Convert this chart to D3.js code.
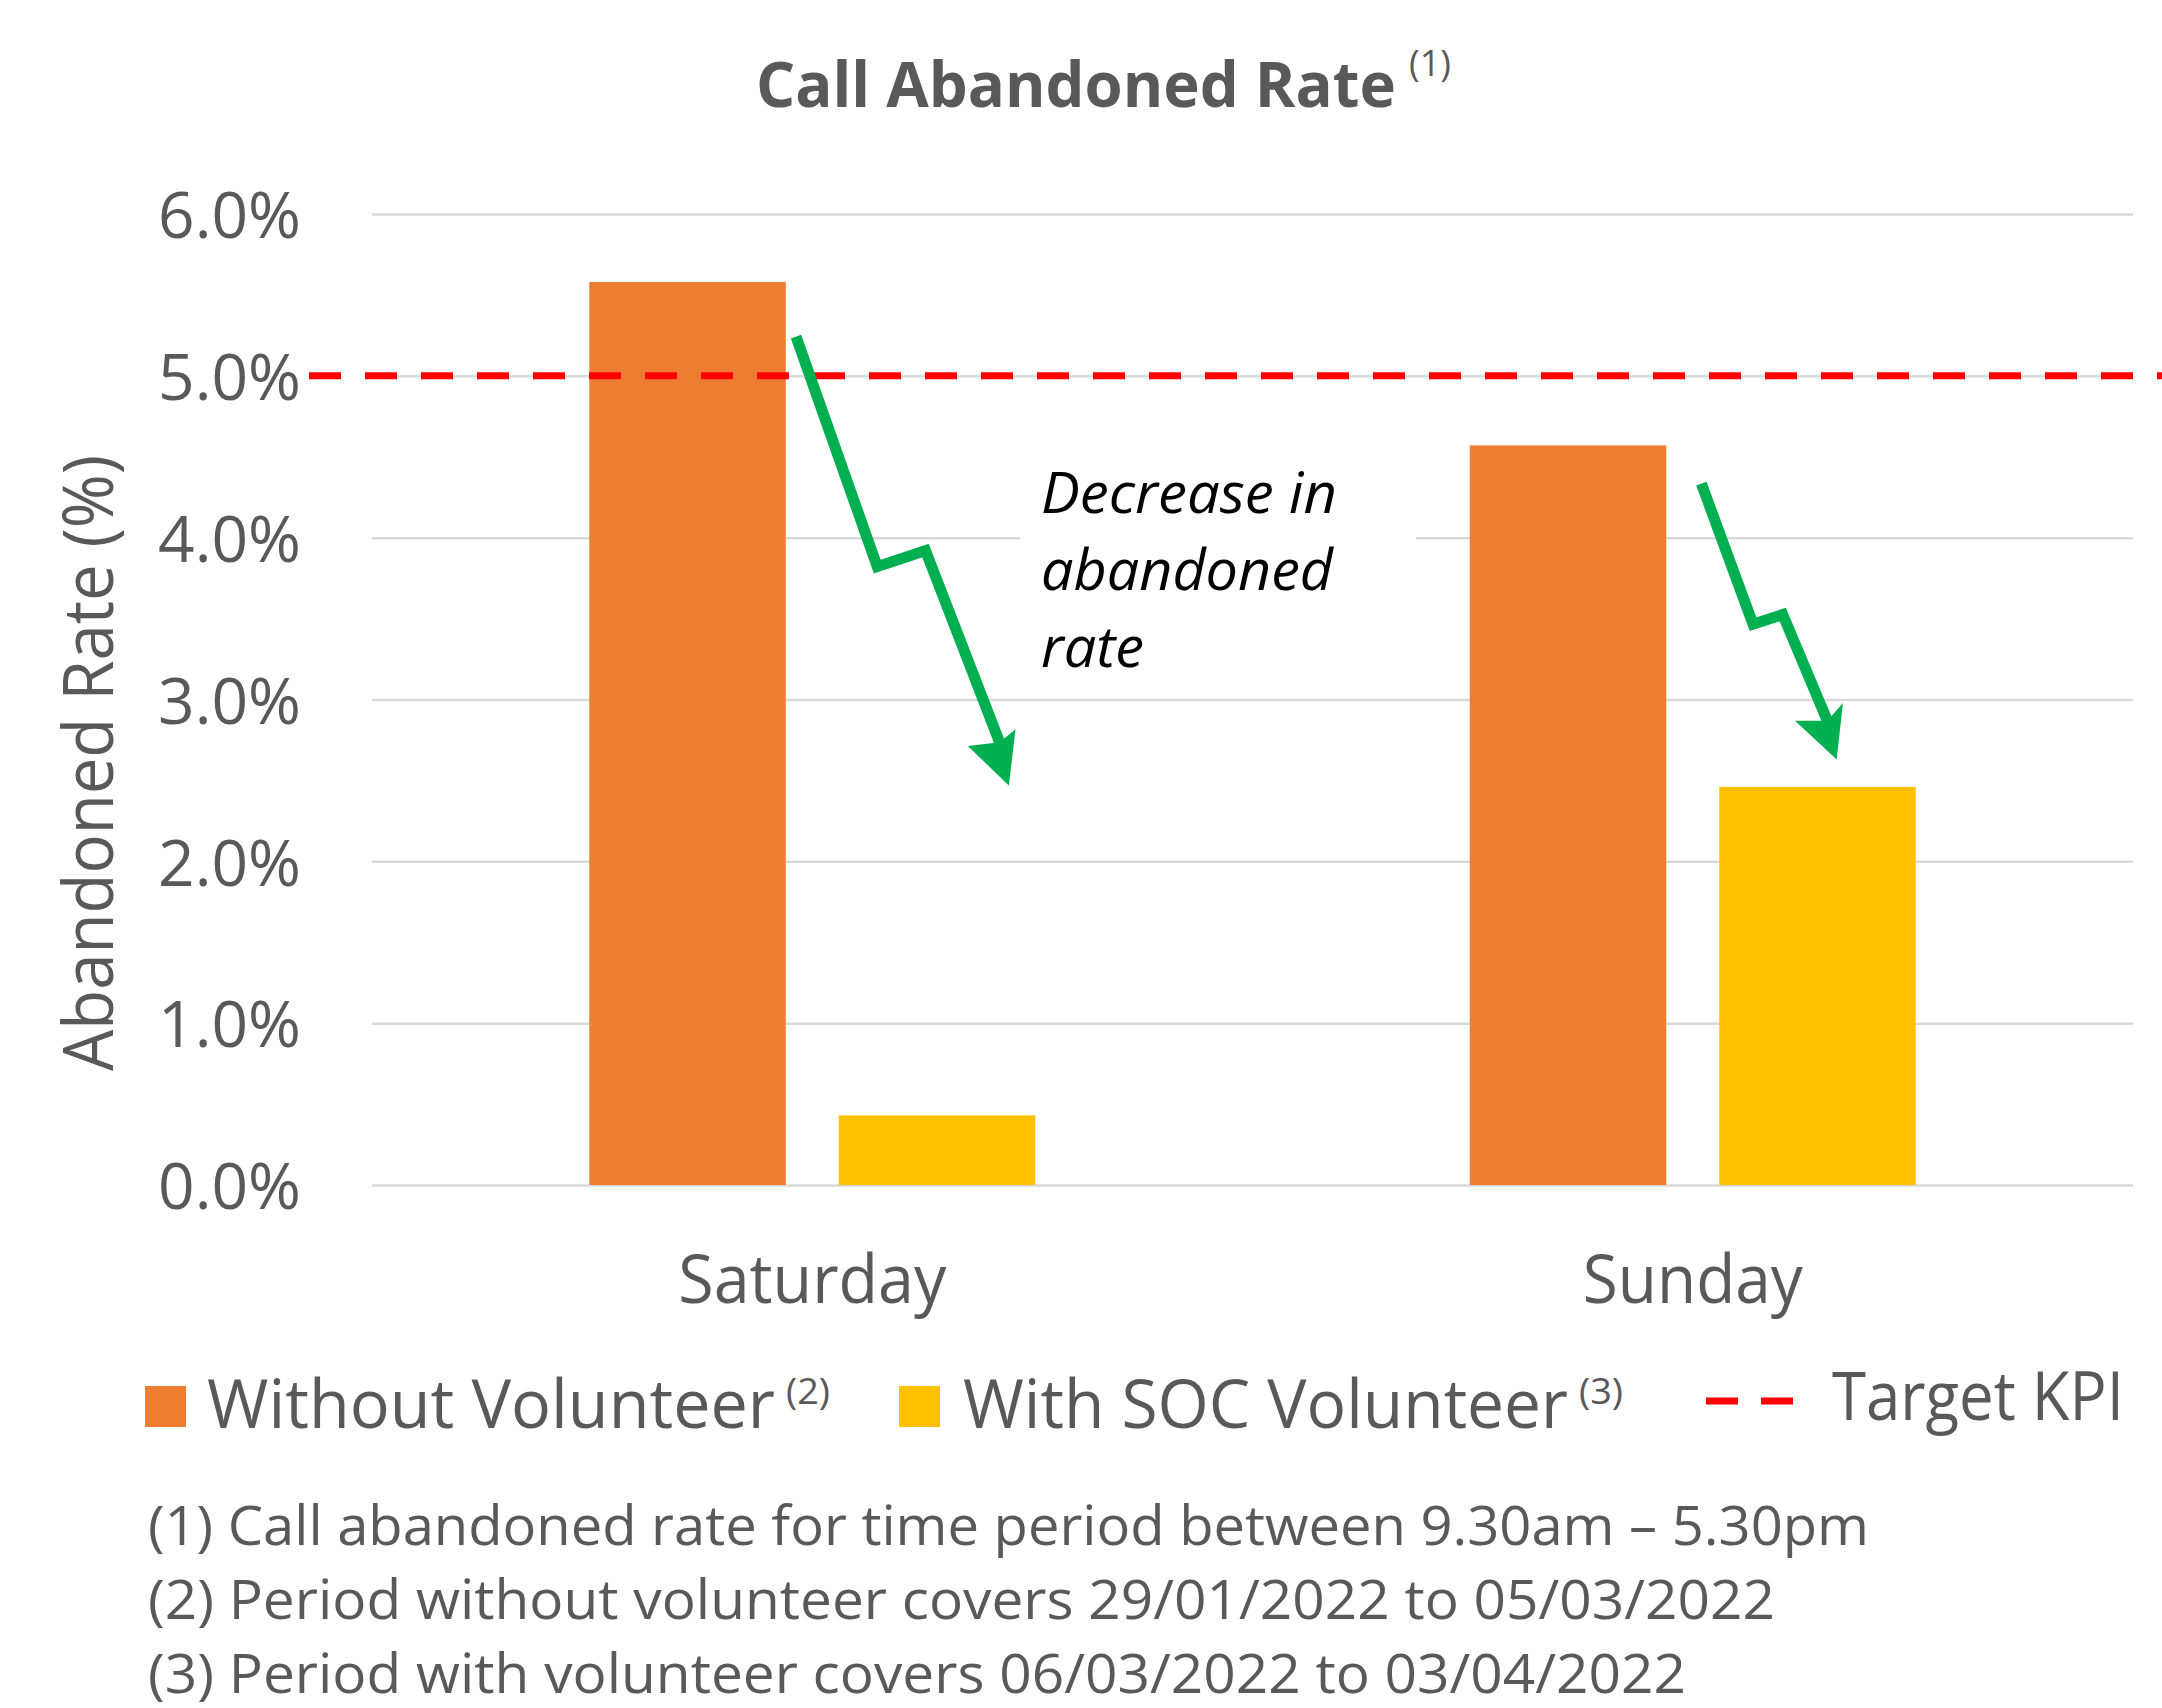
<!DOCTYPE html>
<html>
<head>
<meta charset="utf-8">
<script src="https://cdn.jsdelivr.net/npm/d3@7"></script>
<style>
  html, body { margin: 0; padding: 0; background: #fff; }
  svg { display: block; }
  text { font-family: "Open Sans", "Noto Sans", sans-serif; }
</style>
</head>
<body>
<svg id="chart" width="2162" height="1708"></svg>
<script>
// ---------------- data ----------------
const categories = ["Saturday", "Sunday"];
const seriesNames = ["Without Volunteer", "With SOC Volunteer"];
const seriesSups = ["(2)", "(3)"];
const seriesColors = ["#ED7D31", "#FFC000"];
const withoutVolunteer = [5.58, 4.57];
const withSOCVolunteer = [0.43, 2.46];
const targetKPI = 5.0;
const targetLabel = "Target KPI";
const yTicks = [0, 1, 2, 3, 4, 5, 6];
const chartTitle = "Call Abandoned Rate";
const titleSup = "(1)";
const yAxisTitle = "Abandoned Rate (%)";
const annotationLines = ["Decrease in", "abandoned", "rate"];
const footnotes = [
  "(1) Call abandoned rate for time period between 9.30am \u2013 5.30pm",
  "(2) Period without volunteer covers 29/01/2022 to 05/03/2022",
  "(3) Period with volunteer covers 06/03/2022 to 03/04/2022"
];
// annotation arrows: [fraction of plot width, value in %]
const arrowSaturdayShaft = [[0.2408, 5.242], [0.2869, 3.821], [0.3143, 3.920], [0.3566, 2.729]];
const arrowSaturdayHead  = [[0.3396, 2.708], [0.3612, 2.482], [0.3647, 2.801], [0.3566, 2.729]];
const arrowSundayShaft   = [[0.7549, 4.334], [0.7842, 3.465], [0.8011, 3.525], [0.8267, 2.862]];
const arrowSundayHead    = [[0.8095, 2.862], [0.8313, 2.642], [0.8345, 2.960], [0.8267, 2.862]];

// ---------------- layout ----------------
const W = 2162, H = 1708;
const plot = { left: 372, right: 2133, top: 214, bottom: 1185 };
const textColor = "#595959";

const svg = d3.select("#chart");

function fit(sel, w) {
  sel.attr("textLength", w).attr("lengthAdjust", "spacingAndGlyphs");
  return sel;
}

const y = d3.scaleLinear().domain([0, 6]).range([plot.bottom, plot.top]);
const x0 = d3.scaleBand().domain(categories).range([plot.left, plot.right]).padding(0);
const x1 = d3.scaleBand().domain(seriesNames).range([0, x0.bandwidth()])
  .paddingInner(0.2124).paddingOuter(0.871);
const xAnn = d3.scaleLinear().domain([0, 1]).range([plot.left, plot.right]);

// text with a superscript, as one text element
function supText(parent, opt) {
  const t = parent.append("text")
    .attr("x", opt.x).attr("y", opt.y)
    .attr("fill", textColor)
    .attr("font-size", opt.size);
  if (opt.bold) t.attr("font-weight", "bold");
  fit(t.append("tspan").attr("x", opt.x).attr("y", opt.y).text(opt.main), opt.width);
  fit(t.append("tspan")
    .attr("x", opt.supX).attr("y", opt.supY)
    .attr("font-size", opt.supSize)
    .attr("font-weight", "normal")
    .text(opt.sup), opt.supW);
  return t;
}

// ---------------- title ----------------
supText(svg, { x: 756, y: 107, size: 63, bold: true, main: chartTitle, width: 640,
  sup: titleSup, supX: 1409, supY: 76, supSize: 36, supW: 42 });

// ---------------- y axis + gridlines ----------------
const yAxis = d3.axisLeft(y)
  .tickValues(yTicks)
  .tickSize(-(plot.right - plot.left))
  .tickPadding(71)
  .tickFormat(d => d.toFixed(1) + "%");

const gy = svg.append("g")
  .attr("transform", `translate(${plot.left},0)`)
  .call(yAxis);
gy.select(".domain").remove();
gy.selectAll(".tick line").attr("stroke", "#D9D9D9").attr("stroke-width", 2.5);
gy.selectAll(".tick text")
  .attr("font-size", 64)
  .attr("fill", textColor)
  .attr("font-family", "'Open Sans', sans-serif")
  .attr("dy", "0.37em");

// y axis title
fit(svg.append("text")
  .attr("transform", `translate(113, 763) rotate(-90)`)
  .attr("text-anchor", "middle")
  .attr("font-size", 70)
  .attr("fill", textColor)
  .text(yAxisTitle), 616);

// ---------------- bars ----------------
const rows = categories.map((c, i) => ({
  category: c,
  values: [
    { series: seriesNames[0], value: withoutVolunteer[i], color: seriesColors[0] },
    { series: seriesNames[1], value: withSOCVolunteer[i], color: seriesColors[1] }
  ]
}));

const groups = svg.append("g").selectAll("g")
  .data(rows).join("g")
  .attr("transform", d => `translate(${x0(d.category)},0)`);

groups.selectAll("rect")
  .data(d => d.values).join("rect")
  .attr("x", d => x1(d.series))
  .attr("width", x1.bandwidth())
  .attr("y", d => y(d.value))
  .attr("height", d => y(0) - y(d.value))
  .attr("fill", d => d.color);

// x labels
const xLabelWidths = { Saturday: 268, Sunday: 220 };
svg.append("g").selectAll("text")
  .data(categories).join("text")
  .attr("x", d => x0(d) + x0.bandwidth() / 2)
  .attr("y", 1303)
  .attr("text-anchor", "middle")
  .attr("font-size", 67)
  .attr("fill", textColor)
  .attr("textLength", d => xLabelWidths[d])
  .attr("lengthAdjust", "spacingAndGlyphs")
  .text(d => d);

// ---------------- annotation text box ----------------
svg.append("rect")
  .attr("x", 1020).attr("y", 445)
  .attr("width", 396).attr("height", 245)
  .attr("fill", "#fff");
const annWidths = [296, 292, 103];
svg.append("g").selectAll("text")
  .data(annotationLines).join("text")
  .attr("x", 1041)
  .attr("y", (d, i) => 513 + i * 77)
  .attr("font-size", 56)
  .attr("font-style", "italic")
  .attr("fill", "#000")
  .attr("textLength", (d, i) => annWidths[i])
  .attr("lengthAdjust", "spacingAndGlyphs")
  .text(d => d);

// ---------------- target KPI line ----------------
svg.append("line")
  .attr("x1", plot.left - 63).attr("x2", W)
  .attr("y1", y(targetKPI)).attr("y2", y(targetKPI))
  .attr("stroke", "#FF0000")
  .attr("stroke-width", 7)
  .attr("stroke-dasharray", "32 24");

// ---------------- green arrows ----------------
const lineGen = d3.line().x(d => xAnn(d[0])).y(d => y(d[1]));
[[arrowSaturdayShaft, arrowSaturdayHead], [arrowSundayShaft, arrowSundayHead]].forEach(([shaft, head]) => {
  svg.append("path")
    .attr("d", lineGen(shaft))
    .attr("fill", "none")
    .attr("stroke", "#00B050")
    .attr("stroke-width", 11)
    .attr("stroke-linejoin", "miter")
    .attr("stroke-linecap", "butt");
  svg.append("path")
    .attr("d", lineGen(head) + "Z")
    .attr("fill", "#00B050")
    .attr("stroke", "#00B050")
    .attr("stroke-width", 2)
    .attr("stroke-linejoin", "miter");
});

// ---------------- legend ----------------
const legendY = 1386, sq = 41;
const legendItems = [
  { name: seriesNames[0], sup: seriesSups[0], color: seriesColors[0], sqX: 145, tX: 207, tW: 568, sX: 786 },
  { name: seriesNames[1], sup: seriesSups[1], color: seriesColors[1], sqX: 899, tX: 963, tW: 605, sX: 1579 }
];
const lg = svg.append("g");
legendItems.forEach(it => {
  lg.append("rect").attr("x", it.sqX).attr("y", legendY).attr("width", sq).attr("height", sq).attr("fill", it.color);
  supText(lg, { x: it.tX, y: 1428, size: 67, main: it.name, width: it.tW,
    sup: it.sup, supX: it.sX, supY: 1404, supSize: 37, supW: 44 });
});
lg.append("line")
  .attr("x1", 1706).attr("x2", 1793)
  .attr("y1", 1401).attr("y2", 1401)
  .attr("stroke", "#FF0000").attr("stroke-width", 7)
  .attr("stroke-dasharray", "32 23");
fit(lg.append("text").attr("x", 1832).attr("y", 1420).attr("font-size", 67).attr("fill", textColor).text(targetLabel), 292);

// ---------------- footnotes ----------------
const footWidths = [1721, 1627, 1538];
svg.append("g").selectAll("text")
  .data(footnotes).join("text")
  .attr("x", 148)
  .attr("y", (d, i) => 1545 + i * 74)
  .attr("font-size", 55)
  .attr("fill", textColor)
  .attr("textLength", (d, i) => footWidths[i])
  .attr("lengthAdjust", "spacingAndGlyphs")
  .text(d => d);
</script>
</body>
</html>
